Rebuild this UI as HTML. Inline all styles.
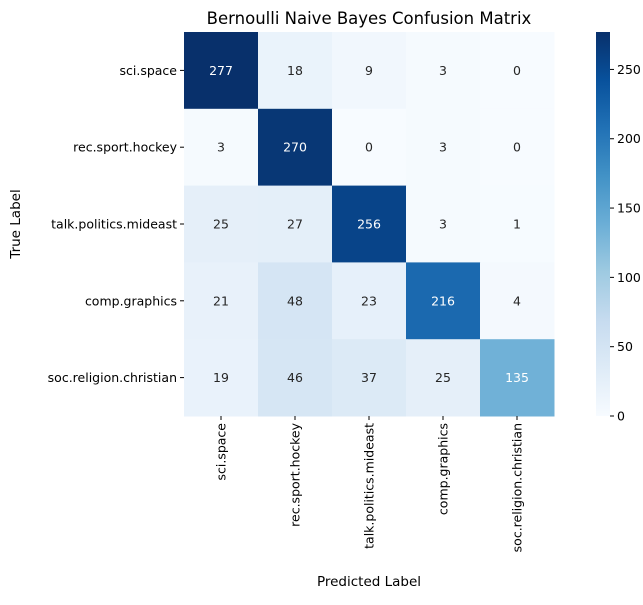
<!DOCTYPE html>
<html><head><meta charset="utf-8"><style>
body{margin:0;background:#fff;}
svg{font-family:"DejaVu Sans","Liberation Sans",sans-serif;}
</style></head><body>
<svg id="chart" width="643" height="600" xmlns="http://www.w3.org/2000/svg">
<text x="369" y="24" font-size="16.5" text-anchor="middle">Bernoulli Naive Bayes Confusion Matrix</text>
<text x="369" y="586" font-size="13.5" text-anchor="middle">Predicted Label</text>
<text transform="translate(20,224) rotate(-90)" font-size="13.5" text-anchor="middle">True Label</text>
<g id="cells"></g>
<defs><linearGradient id="cbg" x1="0" y1="1" x2="0" y2="0">
<stop offset="0" stop-color="#f7fbff"/><stop offset="0.125" stop-color="#deebf7"/><stop offset="0.25" stop-color="#c6dbef"/><stop offset="0.375" stop-color="#9ecae1"/><stop offset="0.5" stop-color="#6baed6"/><stop offset="0.625" stop-color="#4292c6"/><stop offset="0.75" stop-color="#2171b5"/><stop offset="0.875" stop-color="#08519c"/><stop offset="1" stop-color="#08306b"/>
</linearGradient></defs>
<rect x="596" y="32" width="14" height="384" fill="url(#cbg)"/>
<g id="cb"></g>
</svg>
<script>
const labels=["sci.space","rec.sport.hockey","talk.politics.mideast","comp.graphics","soc.religion.christian"];
const row0=[277,18,9,3,0];
const row1=[3,270,0,3,0];
const row2=[25,27,256,3,1];
const row3=[21,48,23,216,4];
const row4=[19,46,37,25,135];
const cbTicks=[0,50,100,150,200,250];
const matrix=[row0,row1,row2,row3,row4];
const NS="http://www.w3.org/2000/svg";
const L=184,R=554,T=32,B=416;
const vmax=Math.max(...matrix.flat()),vmin=Math.min(...matrix.flat());
const n=labels.length,cw=(R-L)/n,ch=(B-T)/n;
const stops=["#f7fbff","#deebf7","#c6dbef","#9ecae1","#6baed6","#4292c6","#2171b5","#08519c","#08306b"].map(h=>[1,3,5].map(i=>parseInt(h.substr(i,2),16)));
function cmap(t){t=Math.max(0,Math.min(1,t));const p=t*8,i=Math.min(7,Math.floor(p)),f=p-i;return stops[i].map((c,k)=>c+(stops[i+1][k]-c)*f);}
function lum(c){const l=c.map(v=>{v/=255;return v<=0.03928?v/12.92:Math.pow((v+0.055)/1.055,2.4)});return 0.2126*l[0]+0.7152*l[1]+0.0722*l[2];}
function mk(tag,a,txt){const e=document.createElementNS(NS,tag);for(const k in a)e.setAttribute(k,a[k]);if(txt!==undefined)e.textContent=txt;return e;}
const g=document.getElementById('cells'),svg=document.getElementById('chart');
matrix.forEach((row,i)=>row.forEach((v,j)=>{
 const c=cmap((v-vmin)/(vmax-vmin));
 const r=mk('rect',{x:L+j*cw,y:T+i*ch,width:cw+0.5,height:ch+0.5,fill:`rgb(${c.map(Math.round).join(',')})`});
 
 
 g.appendChild(r);
 const t=mk('text',{x:L+(j+0.5)*cw,y:T+(i+0.5)*ch+4.5,'font-size':12.5,'text-anchor':'middle',fill:lum(c)<0.408?'#fff':'#262626'},v);
 
 
 g.appendChild(t);
}));
labels.forEach((lb,i)=>{
 const y=T+(i+0.5)*ch;
 svg.appendChild(mk('line',{x1:L-4,x2:L,y1:y,y2:y,stroke:'#000'}));
 const t=mk('text',{x:L-7,y:y+4.5,'font-size':12.5,'text-anchor':'end'},lb);
 
 
 svg.appendChild(t);
 const x=L+(i+0.5)*cw;
 svg.appendChild(mk('line',{x1:x,x2:x,y1:B,y2:B+4,stroke:'#000'}));
 const t2=mk('text',{transform:`translate(${x+4.5},${B+7}) rotate(-90)`,'font-size':12.5,'text-anchor':'end'},lb);
 
 
 svg.appendChild(t2);
});
const cb=document.getElementById('cb');
cbTicks.forEach(v=>{
 const y=B-(v-vmin)/(vmax-vmin)*(B-T);
 cb.appendChild(mk('line',{x1:610,x2:614,y1:y,y2:y,stroke:'#000'}));
 const t=mk('text',{x:617,y:y+4.5,'font-size':12.5},v);
 
 
 cb.appendChild(t);
});
</script>
</body></html>
